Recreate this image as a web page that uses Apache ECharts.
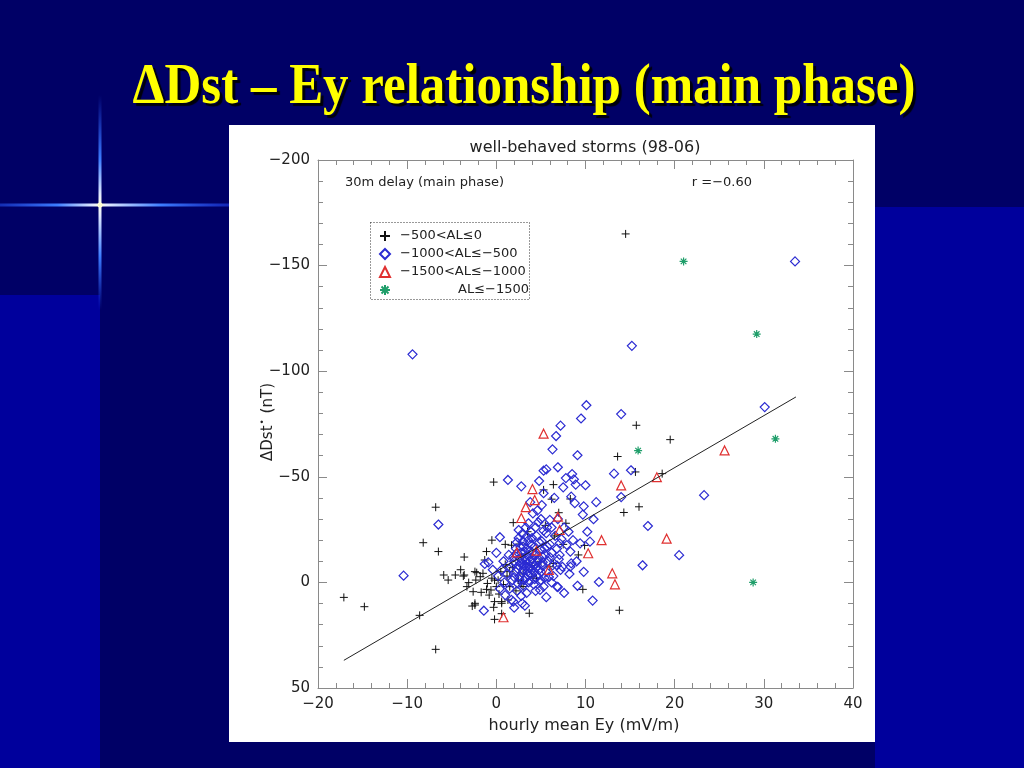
<!DOCTYPE html>
<html>
<head>
<meta charset="utf-8">
<script src="https://cdn.jsdelivr.net/npm/echarts@6/dist/echarts.min.js"></script>
<style>html,body{margin:0;padding:0;background:#000066;}#c{width:1024px;height:768px;}</style>
</head>
<body>
<div id="c"></div>
<script>
// ---- data ----
const slideTitle = 'ΔDst – Ey relationship (main phase)';
const plotTitle = 'well-behaved storms (98-06)';
const noteLeft = '30m delay (main phase)';
const noteRight = 'r =−0.60';
const xName = 'hourly mean Ey (mV/m)';
const seriesNames = ['−500<AL≤0', '−1000<AL≤−500', '−1500<AL≤−1000', 'AL≤−1500'];
const xRange = [-20, 40, 10];
const yRange = [-200, 50, 50];

const alWeak = [[14.5,-165],[15.7,-74.4],[19.5,-67.6],[13.6,-59.6],[15.6,-52.3],[18.6,-51.5],[-0.3,-47.5],[6.4,-46.3],[5.3,-43.8],[6.2,-39.4],[8.3,-39.5],[14.3,-33.1],[16.0,-35.8],[-6.8,-35.6],[1.9,-28.3],[7.8,-28.0],[9.9,-17.5],[9.2,-13.0],[9.7,3.3],[13.8,13.2],[-8.2,-18.8],[-6.5,-14.6],[-3.6,-12.0],[-1.1,-14.6],[1.0,-18.0],[1.7,-17.6],[2.6,-18.2],[-1.3,-10.6],[-5.9,-3.5],[-5.4,-1.1],[-4.6,-3.5],[-3.7,-3.0],[-3.6,-3.5],[-3.1,0.1],[-3.3,2.0],[-2.4,-5.1],[-2.2,-4.6],[-1.8,-2.7],[-1.5,-4.3],[-2.3,-1.1],[-2.6,4.4],[-2.4,9.9],[-2.7,11.2],[-2.4,10.7],[-1.7,4.7],[-1.1,3.3],[-0.6,3.6],[-0.2,-1.1],[-0.3,11.8],[-0.2,9.1],[-0.2,17.5],[0.6,9.1],[0.6,9.9],[1.3,8.3],[3.7,14.6],[0.6,14.8],[-17.1,7.1],[-14.8,11.5],[-8.6,15.6],[-6.8,31.7],[6.4,-9.0],[6.0,-7.4],[1.5,-5.1],[2.8,0.4],[4.1,-2.7],[0.5,-5.0],[1.2,-3.0],[1.8,-7.0],[0.2,-1.0],[-0.5,-2.0],[-1.0,0.5],[0.0,2.0],[0.8,1.0],[2.5,-1.0],[3.0,-4.0],[1.5,2.0],[2.2,4.0],[-0.8,6.0],[0.3,5.5],[1.0,-8.5],[2.8,-12.0],[4.5,-2.0],[5.0,-10.0],[7.5,-18.0],[6.5,-22.0],[3.5,-24.0],[7.0,-33.0],[5.5,-27.0],[-0.5,-20.0],[-4.0,-6.0],[4.0,-8.0],[3.0,2.0]];

const alModerate = [[33.5,-152],[15.2,-112],[-9.4,-108],[30.1,-83],[10.1,-83.9],[9.5,-77.6],[14.0,-79.7],[7.2,-74.2],[6.7,-69.3],[6.3,-63.0],[9.1,-60.2],[5.6,-53.5],[5.3,-52.9],[6.9,-54.5],[13.2,-51.5],[15.1,-53.1],[1.3,-48.5],[2.8,-45.5],[7.8,-49.4],[8.5,-51.3],[8.7,-48.8],[8.9,-46.3],[10.0,-46.0],[5.3,-42.2],[8.4,-40.6],[8.8,-37.5],[9.8,-36.0],[9.7,-32.1],[10.9,-29.9],[14.0,-40.4],[-6.5,-27.4],[23.3,-41.3],[17.0,-26.7],[10.5,-19.3],[20.5,-12.9],[16.4,-8.1],[11.5,-0.2],[-10.4,-3.2],[0.4,-21.4],[-0.9,-9.5],[-1.4,13.4],[1.9,9.1],[2.8,6.4],[2.9,9.9],[6.9,2.2],[9.1,1.6],[10.8,8.6],[8.3,-7.4],[7.2,-5.9],[7.4,-7.4],[5.1,-36.6],[4.1,-32.7],[6.0,-29.6],[8.1,-24.0],[9.4,-18.5],[7.1,-18.5],[3.4,-21.7],[5.6,-23.3],[8.3,-14.6],[7.1,-13.0],[2.5,-24.8],
[2.0,-10],[2.5,-8],[3.0,-6],[3.5,-9],[4.0,-11],[4.5,-7],[5.0,-5],[3.2,-12],[2.8,-14],[3.8,-15],[4.3,-13],[5.2,-12],[5.8,-10],[6.2,-14],[2.2,-5],[2.6,-3],[3.3,-2],[3.9,-4],[4.6,-3],[5.4,-2],[1.6,-7],[1.2,-4],[1.8,-1],[2.4,0.5],[3.0,1.5],[3.6,0],[4.2,1],[4.9,-0.5],[5.6,-5],[6.4,-3],[6.0,-18],[5.4,-16],[4.8,-19],[4.0,-21],[3.0,-17],[2.2,-16],[1.4,-13],[0.8,-10],[0.6,-6],[0.2,-3],[0.9,0],[1.5,3],[2.3,4],[3.4,5],[4.4,4],[5.3,2],[6.2,0],[6.8,-8],[7.0,-11],[6.6,-22],[4.4,-26],[3.6,-28],[5.0,-30],[7.6,-26],[8.6,-20],[8.2,-4],[3.1,-8],[3.7,-7],[4.1,-9],[2.9,-11],[3.5,-5],[4.7,-11],[2.7,-9],[3.3,-10.5],[4.0,-6],[4.5,-14],[5.1,-8],[1.9,-12],[2.3,-19],[3.9,-18],[5.7,-26],[6.9,-30],[4.6,-34],[3.8,-38],[6.5,-40],[7.5,-45],[4.8,-48],[0.0,-14],[-0.4,-6],[0.4,3],[1.0,6],[2.0,12],[3.2,11],[5.6,7],[7.6,5],[9.0,-10],[9.8,-5],[10.2,-24],[11.2,-38],[-1.3,-8.7],[1.7,8.3],[4.9,3.6],[6.8,2.0],[8.4,-9.0],[7.9,-17.7],
[3.0,-9],[3.4,-7.5],[3.8,-10],[4.2,-8],[4.6,-9.5],[3.6,-12.5],[4.0,-14],[3.2,-14.5],[2.6,-11.5],[2.4,-6.5],[2.9,-4.5],[3.5,-3.5],[4.3,-5],[4.8,-6],[5.2,-9.5],[5.5,-13],[4.9,-15.5],[4.2,-16.5],[3.4,-16],[2.7,-16.8],[3.0,-19.5],[3.6,-20],[4.5,-22],[5.1,-19.5],[5.7,-17],[6.0,-12],[6.3,-8],[5.9,-2.5],[5.0,-1],[4.3,-1.5],[3.8,-0.5],[3.1,-1],[2.6,-1.5],[2.0,-2.5],[1.9,-8.5],[2.2,-13.5],[2.5,-21],[3.9,-24],[5.3,-24.5],[6.2,-26],[4.7,-28.5],[3.3,-26],[2.9,-23],[6.8,-16],[7.3,-20.5]];

const alStrong = [[5.3,-70.4],[4.05,-44.2],[4.3,-39.0],[3.3,-35.6],[2.8,-30.5],[6.9,-31.1],[7.1,-24.8],[14.0,-45.9],[18.0,-49.8],[25.6,-62.5],[19.1,-20.7],[11.8,-20.0],[10.3,-13.8],[13.0,-4.3],[13.3,0.9],[2.3,-14.2],[4.5,-15.0],[5.9,-5.9],[0.8,16.5]];

const alExtreme = [[21.0,-152],[29.2,-117.6],[31.3,-68.0],[15.9,-62.4],[28.8,0.0]];

const fitLine = [[-17.1,36.9],[33.6,-87.8]];

// ---- rendering ----
const FONT = 'DejaVu Sans';
const minus = v => String(v).replace('-', '−');
const axisGray = '#8a8a8a';
const plusPath = 'path://M5,0L5,10M0,5L10,5';
const starPath = 'path://M5,0L5,10M0,5L10,5M1.5,1.5L8.5,8.5M8.5,1.5L1.5,8.5';

function xAx(pos, showLabel) {
  return {
    type: 'value', position: pos, min: xRange[0], max: xRange[1], interval: xRange[2],
    axisLine: { show: true, onZero: false, lineStyle: { color: axisGray, width: 1 } },
    axisTick: { show: true, inside: true, length: 9, lineStyle: { color: axisGray } },
    minorTick: { show: true, splitNumber: 5, length: 5, lineStyle: { color: axisGray } },
    splitLine: { show: false }, minorSplitLine: { show: false },
    axisLabel: { show: showLabel, formatter: minus, color: '#222', fontSize: 15, fontFamily: FONT, margin: 9 }
  };
}
function yAx(pos, showLabel) {
  return {
    type: 'value', position: pos, inverse: true, min: yRange[0], max: yRange[1], interval: yRange[2],
    axisLine: { show: true, onZero: false, lineStyle: { color: axisGray, width: 1 } },
    axisTick: { show: true, inside: true, length: 9, lineStyle: { color: axisGray } },
    minorTick: { show: true, splitNumber: 5, length: 5, lineStyle: { color: axisGray } },
    splitLine: { show: false }, minorSplitLine: { show: false },
    axisLabel: { show: showLabel, formatter: minus, color: '#222', fontSize: 15, fontFamily: FONT, margin: 8 }
  };
}

const chart = echarts.init(document.getElementById('c'), null, { renderer: 'canvas' });
chart.setOption({
  animation: false,
  backgroundColor: '#000066',
  graphic: [
    { type: 'rect', z: -10, shape: { x: 875, y: 207, width: 149, height: 561 }, style: { fill: '#00009c' }, silent: true },
    { type: 'rect', z: -10, shape: { x: 0, y: 295, width: 100, height: 473 }, style: { fill: '#00009c' }, silent: true },
    { type: 'rect', z: -9, shape: { x: 0, y: 203.5, width: 230, height: 3 }, silent: true,
      style: { fill: new echarts.graphic.LinearGradient(0, 0, 1, 0, [
        { offset: 0, color: 'rgba(40,90,255,0.5)' }, { offset: 0.25, color: '#3d7dff' },
        { offset: 0.4, color: '#dfe8ff' }, { offset: 0.435, color: '#ffffe8' }, { offset: 0.47, color: '#dfe8ff' },
        { offset: 0.7, color: '#3d7dff' }, { offset: 1, color: 'rgba(30,60,230,0.6)' } ]) } },
    { type: 'rect', z: -9, shape: { x: 98.5, y: 95, width: 3, height: 215 }, silent: true,
      style: { fill: new echarts.graphic.LinearGradient(0, 0, 0, 1, [
        { offset: 0, color: 'rgba(40,90,255,0)' }, { offset: 0.3, color: '#3d7dff' },
        { offset: 0.46, color: '#dfe8ff' }, { offset: 0.51, color: '#ffffe8' }, { offset: 0.56, color: '#dfe8ff' },
        { offset: 0.75, color: '#3d7dff' }, { offset: 1, color: 'rgba(40,90,255,0)' } ]) } },
    { type: 'circle', z: -8, shape: { cx: 100, cy: 205, r: 2.5 }, style: { fill: '#ffffd0' }, silent: true },
    { type: 'text', z: 5, x: 524, y: 89, scaleX: 0.91, silent: true,
      style: { text: slideTitle, x: 0, y: 0, align: 'center', verticalAlign: 'middle',
        fontFamily: 'Liberation Serif', fontWeight: 'bold', fontSize: 56, fill: '#ffff00',
        textShadowColor: 'rgba(0,0,0,0.9)', textShadowOffsetX: 3, textShadowOffsetY: 3, textShadowBlur: 1 } },
    { type: 'rect', z: -5, shape: { x: 229, y: 125, width: 646, height: 617 }, style: { fill: '#ffffff' }, silent: true },
    { type: 'text', z: 5, silent: true,
      style: { text: plotTitle, x: 585, y: 148, align: 'center', verticalAlign: 'middle', fontFamily: FONT, fontSize: 16, fill: '#222' } },
    { type: 'text', z: 5, silent: true,
      style: { text: noteLeft, x: 345, y: 183, align: 'left', verticalAlign: 'middle', fontFamily: FONT, fontSize: 13, fill: '#222' } },
    { type: 'text', z: 5, silent: true,
      style: { text: noteRight, x: 752, y: 183, align: 'right', verticalAlign: 'middle', fontFamily: FONT, fontSize: 13, fill: '#222' } },
    { type: 'text', z: 5, silent: true,
      style: { text: xName, x: 584, y: 726, align: 'center', verticalAlign: 'middle', fontFamily: FONT, fontSize: 16, fill: '#222' } },
    { type: 'text', z: 5, x: 268, y: 422, rotation: Math.PI / 2, silent: true,
      style: { text: '{a|ΔDst}{s|•}{a| (nT)}', x: 0, y: 0, align: 'center', verticalAlign: 'middle',
        rich: { a: { fontFamily: FONT, fontSize: 15, fill: '#222', lineHeight: 18 },
                s: { fontFamily: FONT, fontSize: 9, fill: '#222', lineHeight: 18, padding: [0, 1, 10, 1] } } } },
    { type: 'rect', z: 5, silent: true, shape: { x: 370.5, y: 222.5, width: 159, height: 77 },
      style: { fill: 'none', stroke: '#333', lineWidth: 1, lineDash: [1, 2] } }
  ],
  grid: { left: 318, top: 160, width: 535, height: 528, containLabel: false, outerBoundsMode: 'none' },
  legend: {
    orient: 'vertical', left: 379, top: 229, padding: 0, itemGap: 4,
    itemWidth: 10, itemHeight: 10, selectedMode: false,
    data: seriesNames,
    formatter: n => n === seriesNames[3] ? '{r|' + n + '}' : n,
    textStyle: { fontFamily: FONT, fontSize: 13, color: '#222', lineHeight: 14, padding: [0, 0, 0, 5],
      rich: { r: { fontFamily: FONT, fontSize: 13, color: '#222', padding: [0, 0, 0, 58] } } }
  },
  xAxis: [xAx('bottom', true), xAx('top', false)],
  yAxis: [yAx('left', true), yAx('right', false)],
  series: [
    { name: seriesNames[0], type: 'scatter', data: alWeak, symbol: plusPath, symbolSize: 8,
      itemStyle: { color: 'rgba(0,0,0,0)', borderColor: '#111', borderWidth: 1, opacity: 1 } },
    { name: seriesNames[1], type: 'scatter', data: alModerate, symbol: 'diamond', symbolSize: 9,
      itemStyle: { color: 'rgba(0,0,0,0)', borderColor: '#2b2bd2', borderWidth: 1.2, opacity: 1 } },
    { name: seriesNames[2], type: 'scatter', data: alStrong, symbol: 'triangle', symbolSize: 9,
      itemStyle: { color: 'rgba(0,0,0,0)', borderColor: '#e03030', borderWidth: 1.2, opacity: 1 } },
    { name: seriesNames[3], type: 'scatter', data: alExtreme, symbol: starPath, symbolSize: 8,
      itemStyle: { color: 'rgba(0,0,0,0)', borderColor: '#1f9e6a', borderWidth: 1.2, opacity: 1 } },
    { name: 'fit', type: 'line', data: fitLine, symbol: 'none', silent: true,
      lineStyle: { color: '#222', width: 1 } }
  ]
});
</script>
</body>
</html>
